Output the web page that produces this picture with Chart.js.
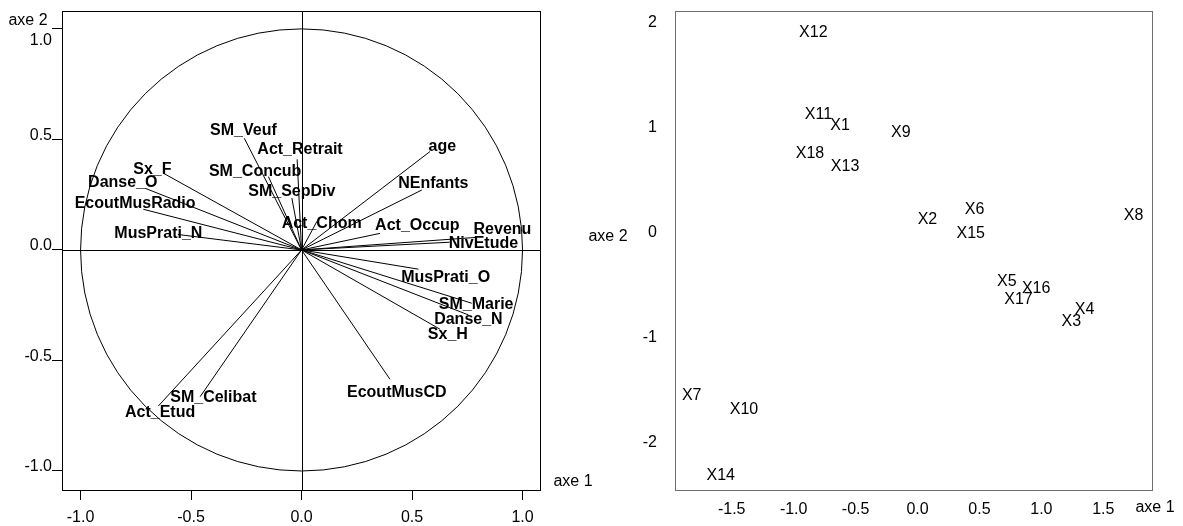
<!DOCTYPE html>
<html>
<head>
<meta charset="utf-8">
<script src="https://cdn.jsdelivr.net/npm/chart.js@4.4.1/dist/chart.umd.min.js"></script>
<style>
  html, body { margin: 0; padding: 0; background: #fff; }
  #wrap { position: relative; width: 1183px; height: 526px; overflow: hidden; }
  canvas { position: absolute; top: 0; }
  #circleChart { left: 0; }
  #scoreChart { left: 580px; }
</style>
</head>
<body>
<div id="wrap">
  <canvas id="circleChart" width="600" height="526"></canvas>
  <canvas id="scoreChart" width="603" height="526"></canvas>
</div>
<script>
// correlation circle: variables (arrow ends) and where their names sit
const varNames = ['age', 'NEnfants', 'Act_Occup', 'Revenu', 'NivEtude', 'Act_Chom',
  'MusPrati_O', 'SM_Marie', 'Danse_N', 'Sx_H', 'EcoutMusCD', 'Act_Etud', 'SM_Celibat',
  'Sx_F', 'Danse_O', 'EcoutMusRadio', 'MusPrati_N', 'SM_Veuf', 'Act_Retrait', 'SM_Concub', 'SM_SepDiv'];
const varX = [0.581, 0.544, 0.355, 0.793, 0.670, 0.070,
  0.529, 0.770, 0.755, 0.627, 0.400, -0.648, -0.459,
  -0.625, -0.708, -0.716, -0.560, -0.259, -0.020, -0.150, -0.044];
const varY = [0.445, 0.271, 0.075, 0.057, 0.035, 0.130,
  -0.087, -0.241, -0.294, -0.359, -0.585, -0.706, -0.664,
  0.347, 0.279, 0.184, 0.070, 0.505, 0.410, 0.332, 0.235];
const varLabelX = [0.637, 0.596, 0.524, 0.909, 0.823, 0.091,
  0.652, 0.790, 0.755, 0.662, 0.431, -0.640, -0.399,
  -0.675, -0.809, -0.753, -0.648, -0.263, -0.007, -0.210, -0.044];
const varLabelY = [0.467, 0.299, 0.109, 0.090, 0.030, 0.121,
  -0.125, -0.249, -0.317, -0.381, -0.646, -0.736, -0.667,
  0.365, 0.305, 0.211, 0.076, 0.538, 0.456, 0.354, 0.264];

// individuals on the first plane
const indNames = ['X1', 'X2', 'X3', 'X4', 'X5', 'X6', 'X7', 'X8', 'X9',
  'X10', 'X11', 'X12', 'X13', 'X14', 'X15', 'X16', 'X17', 'X18'];
const indX = [-0.625, 0.080, 1.241, 1.348, 0.721, 0.460, -1.823, 1.744, -0.135,
  -1.401, -0.800, -0.841, -0.585, -1.589, 0.430, 0.958, 0.815, -0.868];
const indY = [1.014, 0.119, -0.850, -0.731, -0.468, 0.221, -1.557, 0.157, 0.950,
  -1.690, 1.119, 1.907, 0.627, -2.319, -0.008, -0.532, -0.636, 0.754];

const circleTicks = [-1, -0.5, 0, 0.5, 1];
const scoreTicksX = [-1.5, -1, -0.5, 0, 0.5, 1, 1.5];
const scoreTicksY = [-2, -1, 0, 1, 2];

const FONT = '"Liberation Sans", Arial, sans-serif';
Chart.defaults.font.family = FONT;
Chart.defaults.font.size = 16;
Chart.defaults.color = '#000';

const px = v => Math.round(v) + 0.5;
const noPad = s => { s.paddingTop = 0; s.paddingBottom = 0; s.paddingLeft = 0; s.paddingRight = 0; };

// frame, axes through origin, unit circle, names and left tick labels
const circleDecor = {
  id: 'circleDecor',
  beforeDatasetsDraw(chart) {
    const { ctx, chartArea: a, scales: { x, y } } = chart;
    const x0 = x.getPixelForValue(0), y0 = y.getPixelForValue(0);
    ctx.save();
    ctx.strokeStyle = '#000';
    ctx.lineWidth = 1;
    ctx.strokeRect(px(a.left), px(a.top), Math.round(a.width), Math.round(a.height));
    ctx.beginPath();
    ctx.moveTo(px(x0), a.top); ctx.lineTo(px(x0), a.bottom);
    ctx.moveTo(a.left, px(y0)); ctx.lineTo(a.right, px(y0));
    ctx.stroke();
    ctx.beginPath();
    ctx.ellipse(x0, y0, x.getPixelForValue(1) - x0, y0 - y.getPixelForValue(1), 0, 0, Math.PI * 2);
    ctx.stroke();
    ctx.restore();
  },
  afterDatasetsDraw(chart) {
    const { ctx, chartArea: a, scales: { x, y } } = chart;
    ctx.save();
    ctx.fillStyle = '#000';
    ctx.textAlign = 'center';
    ctx.textBaseline = 'middle';
    ctx.font = 'bold 16px ' + FONT;
    varNames.forEach((n, i) => {
      ctx.fillText(n, x.getPixelForValue(varLabelX[i]), y.getPixelForValue(varLabelY[i]));
    });
    ctx.font = '16px ' + FONT;
    ctx.textAlign = 'right';
    circleTicks.forEach(v => {
      const off = v === 1 ? 12 : -4;
      ctx.fillText(v.toFixed(1), a.left - 10, y.getPixelForValue(v) + off);
    });
    ctx.textAlign = 'center';
    ctx.fillText('axe 2', 28, 21);
    ctx.fillText('axe 1', 573, 482);
    ctx.restore();
  }
};

new Chart(document.getElementById('circleChart'), {
  type: 'scatter',
  data: {
    datasets: varNames.map((n, i) => ({
      label: n,
      data: [{ x: 0, y: 0 }, { x: varX[i], y: varY[i] }],
      showLine: true,
      borderColor: '#000',
      borderWidth: 1,
      pointRadius: 0
    }))
  },
  options: {
    responsive: false,
    animation: false,
    events: [],
    layout: { padding: { top: 11, right: 60, left: 0, bottom: 0 } },
    plugins: { legend: { display: false }, tooltip: { enabled: false } },
    scales: {
      x: {
        type: 'linear', min: -1.084, max: 1.079,
        afterBuildTicks: s => { s.ticks = circleTicks.map(v => ({ value: v })); },
        afterFit: s => { s.height = 36; noPad(s); },
        ticks: { callback: v => v.toFixed(1), padding: 8, maxRotation: 0, autoSkip: false },
        grid: { drawOnChartArea: false, tickLength: 10, color: '#000' },
        border: { display: false }
      },
      y: {
        type: 'linear', min: -1.086, max: 1.081,
        afterBuildTicks: s => { s.ticks = circleTicks.map(v => ({ value: v })); },
        afterFit: s => { s.width = 62; noPad(s); },
        ticks: { display: false },
        grid: { drawOnChartArea: false, tickLength: 10, color: '#000' },
        border: { display: false }
      }
    }
  },
  plugins: [circleDecor]
});

// grey frame and the individuals' names at their points
const scoreDecor = {
  id: 'scoreDecor',
  beforeDatasetsDraw(chart) {
    const { ctx, chartArea: a } = chart;
    ctx.save();
    ctx.strokeStyle = '#6e6e6e';
    ctx.lineWidth = 1;
    ctx.strokeRect(px(a.left), px(a.top), Math.round(a.width), Math.round(a.height));
    ctx.restore();
  },
  afterDatasetsDraw(chart) {
    const { ctx } = chart;
    const pts = chart.getDatasetMeta(0).data;
    ctx.save();
    ctx.fillStyle = '#000';
    ctx.textAlign = 'center';
    ctx.textBaseline = 'middle';
    ctx.font = '16px ' + FONT;
    pts.forEach((p, i) => ctx.fillText(indNames[i], p.x, p.y));
    ctx.fillText('axe 2', 28, 237);
    ctx.fillText('axe 1', 575, 508);
    ctx.restore();
  }
};

new Chart(document.getElementById('scoreChart'), {
  type: 'scatter',
  data: {
    datasets: [{
      label: 'individus',
      data: indNames.map((n, i) => ({ x: indX[i], y: indY[i] })),
      pointRadius: 0
    }]
  },
  options: {
    responsive: false,
    animation: false,
    events: [],
    layout: { padding: { top: 11, right: 31, left: 0, bottom: 0 } },
    plugins: { legend: { display: false }, tooltip: { enabled: false } },
    scales: {
      x: {
        type: 'linear', min: -1.958, max: 1.893,
        afterBuildTicks: s => { s.ticks = scoreTicksX.map(v => ({ value: v })); },
        afterFit: s => { s.height = 36; noPad(s); },
        ticks: { callback: v => v.toFixed(1), padding: 10, maxRotation: 0, autoSkip: false },
        grid: { drawOnChartArea: false, drawTicks: false },
        border: { display: false }
      },
      y: {
        type: 'linear', min: -2.452, max: 2.11,
        afterBuildTicks: s => { s.ticks = scoreTicksY.map(v => ({ value: v })); },
        afterFit: s => { s.width = 95; noPad(s); },
        ticks: { callback: v => String(v), padding: 18, autoSkip: false },
        grid: { drawOnChartArea: false, drawTicks: false },
        border: { display: false }
      }
    }
  },
  plugins: [scoreDecor]
});
</script>
</body>
</html>
